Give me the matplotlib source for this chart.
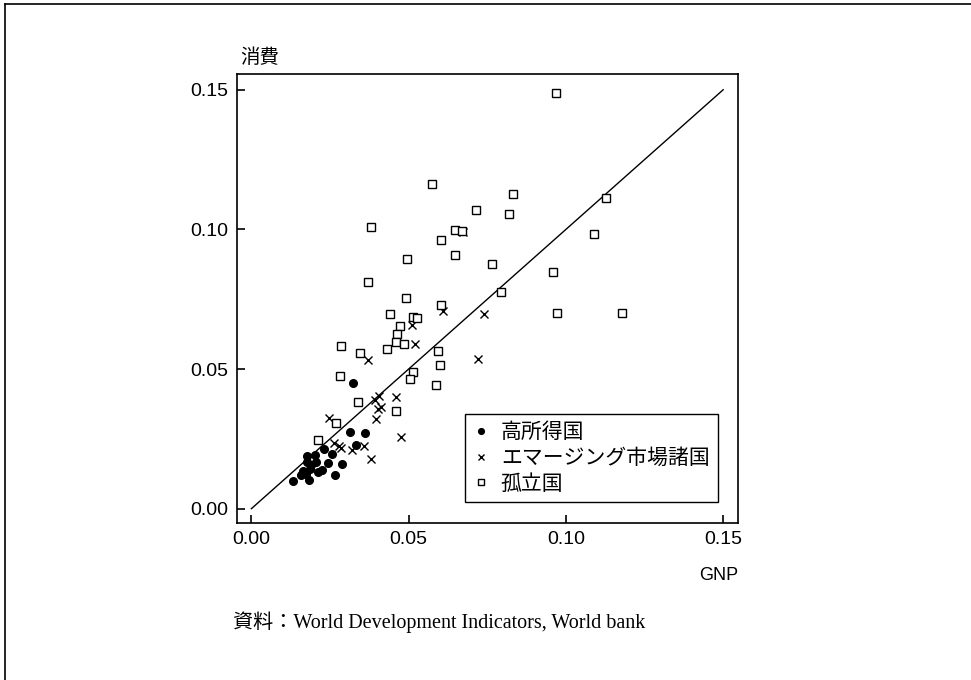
import numpy as np
import matplotlib
matplotlib.use('Agg')
import matplotlib.pyplot as plt
from matplotlib.lines import Line2D

plt.rcParams['font.family'] = ['Liberation Sans', 'Noto Sans CJK JP', 'DejaVu Sans']

# high income countries
hi_x = [0.0323, 0.0315, 0.0361, 0.0334, 0.0232, 0.0201, 0.0256, 0.0177, 0.0177, 0.0204, 0.0191,
        0.0243, 0.0287, 0.0164, 0.0185, 0.0173, 0.0212, 0.0226, 0.0159, 0.0265, 0.0132, 0.0182]
hi_y = [0.0450, 0.0273, 0.0271, 0.0229, 0.0214, 0.0193, 0.0196, 0.0190, 0.0166, 0.0166, 0.0157,
        0.0164, 0.0160, 0.0134, 0.0142, 0.0125, 0.0131, 0.0140, 0.0119, 0.0119, 0.0099, 0.0101]

# emerging markets
em_x = [0.0519, 0.0371, 0.0722, 0.0407, 0.0459, 0.0394, 0.0413, 0.0404, 0.0396, 0.0246, 0.0476,
        0.0263, 0.0278, 0.0284, 0.0320, 0.0359, 0.0380, 0.0673, 0.0610, 0.0510, 0.0738]
em_y = [0.0588, 0.0531, 0.0535, 0.0402, 0.0401, 0.0388, 0.0364, 0.0358, 0.0321, 0.0325, 0.0255,
        0.0235, 0.0223, 0.0216, 0.0211, 0.0225, 0.0179, 0.0989, 0.0708, 0.0657, 0.0698]

# isolated countries
iso_x = [0.0968, 0.0575, 0.0833, 0.1127, 0.0713, 0.0818, 0.0380, 0.0648, 0.0671, 0.1089, 0.0602,
         0.0646, 0.0494, 0.0764, 0.0958, 0.0371, 0.0793, 0.0491, 0.0602, 0.0973, 0.1179, 0.0442,
         0.0514, 0.0525, 0.0472, 0.0464, 0.0461, 0.0486, 0.0431, 0.0285, 0.0346, 0.0593, 0.0600,
         0.0281, 0.0514, 0.0503, 0.0588, 0.0339, 0.0461, 0.0270, 0.0212]
iso_y = [0.1488, 0.1163, 0.1127, 0.1112, 0.1068, 0.1056, 0.1008, 0.0999, 0.0994, 0.0984, 0.0963,
         0.0907, 0.0895, 0.0877, 0.0846, 0.0810, 0.0777, 0.0753, 0.0728, 0.0700, 0.0700, 0.0698,
         0.0688, 0.0684, 0.0655, 0.0624, 0.0598, 0.0591, 0.0573, 0.0583, 0.0559, 0.0564, 0.0513,
         0.0476, 0.0489, 0.0466, 0.0444, 0.0382, 0.0350, 0.0307, 0.0246]

ticks = [0.00, 0.05, 0.10, 0.15]
tick_labels = ['0.00', '0.05', '0.10', '0.15']

fig = plt.figure(figsize=(9.71, 6.80), dpi=100)
ax = fig.add_axes([0.244, 0.231, 0.516, 0.660])

ax.plot([0, 0.15], [0, 0.15], color='black', linewidth=1.0)
ax.plot(hi_x, hi_y, 'o', color='black', markersize=5.5, label='高所得国')
ax.plot(em_x, em_y, 'x', color='black', markersize=6, markeredgewidth=1.0, label='エマージング市場諸国')
ax.plot(iso_x, iso_y, 's', color='black', markerfacecolor='white', markersize=6,
        markeredgewidth=1.0, label='孤立国')

ax.set_xlim(-0.0046, 0.1547)
ax.set_ylim(-0.0051, 0.1556)
ax.set_xticks(ticks)
ax.set_xticklabels(tick_labels)
ax.set_yticks(ticks)
ax.set_yticklabels(tick_labels)
ax.tick_params(direction='in', length=6, width=1.2, labelsize=14, pad=6)
for s in ax.spines.values():
    s.set_linewidth(1.2)

leg = ax.legend(loc='lower right', bbox_to_anchor=(0.960, 0.047), fontsize=15,
                handlelength=0.7, handletextpad=0.6, borderpad=0.4, borderaxespad=0,
                labelspacing=0.28, fancybox=False, framealpha=1, edgecolor='black',
                markerscale=0.75)
leg.get_frame().set_linewidth(1.0)

fig.text(0.268, 0.915, '消費', fontsize=14, ha='center', va='center')
fig.text(0.760, 0.154, 'GNP', fontsize=13, ha='right', va='center')
fig.text(0.240, 0.085, '資料：World Development Indicators, World bank', fontsize=14.5,
         ha='left', va='center', family=['Liberation Serif', 'Noto Sans CJK JP'])

# outer frame (top and left edges only)
fig.add_artist(Line2D([0.005, 1.0], [0.994, 0.994], color='black', linewidth=1.2,
                      transform=fig.transFigure))
fig.add_artist(Line2D([0.005, 0.005], [0.0, 0.994], color='black', linewidth=1.2,
                      transform=fig.transFigure))

fig.savefig('out.png', dpi=100)
